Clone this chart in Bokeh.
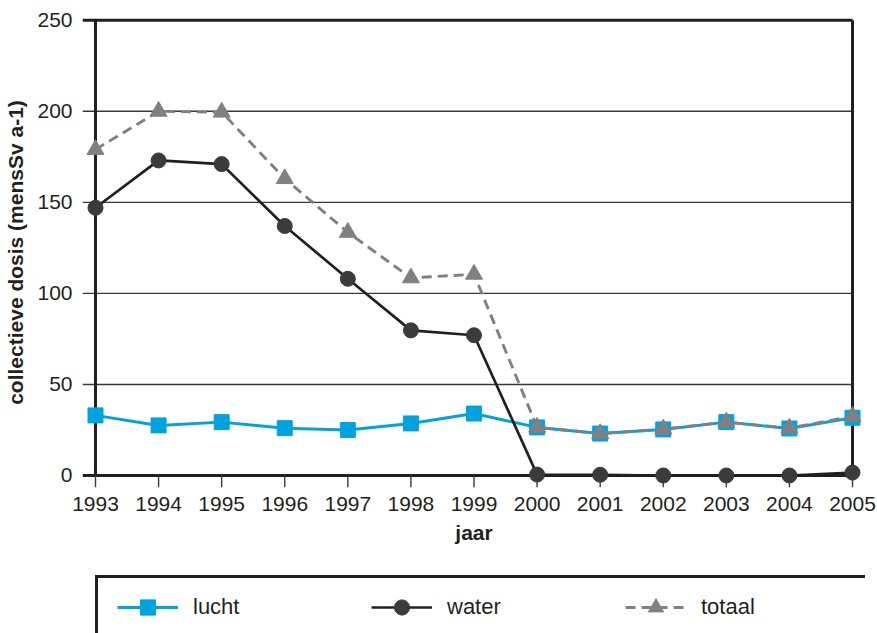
from bokeh.plotting import figure
from bokeh.layouts import column
from bokeh.models import Range1d, FixedTicker, Legend, LegendItem
from bokeh.embed import file_html
from bokeh.resources import INLINE

YEARS = [1993, 1994, 1995, 1996, 1997, 1998, 1999, 2000, 2001, 2002, 2003, 2004, 2005]
LUCHT = [33, 27.5, 29.3, 26, 25, 28.6, 34, 26.4, 23, 25.3, 29.3, 25.8, 31.7]
WATER = [147, 173, 171, 137, 108, 79.7, 77, 0.5, 0.4, 0, 0, 0, 1.6]
TOTAAL = [179, 200, 199.5, 163, 133.5, 108.5, 110.5, 26.5, 23, 25.5, 29.3, 26, 32.5]
Y_TICKS = [0, 50, 100, 150, 200, 250]
SERIES = ["lucht", "water", "totaal"]
X_LABEL = "jaar"
Y_LABEL = "collectieve dosis (mensSv a-1)"

X_START, X_END = YEARS[0], YEARS[-1]
Y_MIN, Y_MAX = Y_TICKS[0], Y_TICKS[-1]
XPAD_L, XPAD_R = 0.206, 0.206
YPAD_B, YPAD_T = 6.6, 1.5

FONT = "Liberation Sans"
INK = "#231f20"
CYAN = "#00a3e0"
DARK = "#231f20"
DOT = "#3b3b3b"
GRAY = "#808080"
GRID = "#3a3a3a"

p = figure(
    frame_width=783, frame_height=470,
    min_border_left=82, min_border_right=12, min_border_top=17, min_border_bottom=83,
    x_range=Range1d(X_START - XPAD_L, X_END + XPAD_R),
    y_range=Range1d(Y_MIN - YPAD_B, Y_MAX + YPAD_T),
    output_backend="svg", toolbar_location=None,
)
p.outline_line_color = None
p.grid.visible = False

for ax in (p.xaxis[0], p.yaxis[0]):
    ax.axis_line_color = None
    ax.major_tick_line_color = None
    ax.minor_tick_line_color = None
    ax.major_label_text_font = FONT
    ax.major_label_text_font_size = "21px"
    ax.major_label_text_color = INK
    ax.axis_label_text_font = FONT
    ax.axis_label_text_font_size = "21px"
    ax.axis_label_text_font_style = "bold"
    ax.axis_label_text_color = INK

p.xaxis.ticker = FixedTicker(ticks=YEARS)
p.yaxis.ticker = FixedTicker(ticks=Y_TICKS)
p.xaxis.major_label_standoff = 3
p.yaxis.major_label_standoff = 4
p.xaxis.axis_label = X_LABEL
p.yaxis.axis_label = Y_LABEL
p.xaxis.axis_label_standoff = 7
p.yaxis.axis_label_standoff = 7

# horizontal grid lines (with tick stubs left of the axis)
inner = Y_TICKS[1:-1]
p.segment(x0=[X_START - XPAD_L] * len(inner), x1=[X_END] * len(inner), y0=inner, y1=inner,
          line_color=GRID, line_width=1.4)
# bottom axis line and top border
p.segment(x0=[X_START - XPAD_L] * 2, x1=[X_END] * 2, y0=[Y_MIN, Y_MAX], y1=[Y_MIN, Y_MAX],
          line_color=INK, line_width=3)
# x tick stubs
p.segment(x0=YEARS, x1=YEARS, y0=[Y_MIN - YPAD_B] * len(YEARS), y1=[Y_MIN] * len(YEARS),
          line_color=GRID, line_width=1.4)
# left axis line and right border
p.segment(x0=[X_START, X_END], x1=[X_START, X_END], y0=[Y_MIN, Y_MIN], y1=[Y_MAX, Y_MAX],
          line_color=INK, line_width=3)

STYLES = [
    dict(line=dict(line_color=CYAN, line_width=3),
         pts=dict(marker="square", size=15, fill_color=CYAN, line_color=CYAN)),
    dict(line=dict(line_color=DARK, line_width=2.7),
         pts=dict(marker="circle", size=15, fill_color=DOT, line_color=DOT)),
    dict(line=dict(line_color=GRAY, line_width=2.9, line_dash="10 6"),
         pts=dict(marker="triangle", size=17, fill_color=GRAY, line_color=GRAY)),
]
VALUES = [LUCHT, WATER, TOTAAL]
for vals, st in zip(VALUES, STYLES):
    p.line(YEARS, vals, **st["line"])
    p.scatter(YEARS, vals, **st["pts"])

# ---- legend strip (separate figure below the chart; its frame aligns with the chart frame) ----
q = figure(width=877, height=63, min_border_top=0, min_border_bottom=0,
           min_border_left=82, min_border_right=12,
           x_range=Range1d(0, 1), y_range=Range1d(0, 1),
           output_backend="svg", toolbar_location=None,
           x_axis_location=None, y_axis_location=None)
q.outline_line_color = None
q.grid.visible = False

# legend-only renderers: same styles, their data lie outside this strip's ranges
items = []
for name, vals, st in zip(SERIES, VALUES, STYLES):
    r1 = q.line(YEARS, vals, **st["line"])
    r2 = q.scatter(YEARS, vals, **{k: v for k, v in st["pts"].items() if k != "size"})
    items.append(LegendItem(label=name, renderers=[r1, r2]))

box_r = q.line(YEARS, LUCHT, line_alpha=0)
box = Legend(
    items=[LegendItem(label=" ", renderers=[box_r])],
    location=(13, -28), orientation="horizontal",
    glyph_width=20, glyph_height=80, label_width=747, label_height=80,
    label_standoff=0, padding=0, margin=0, spacing=0,
    border_line_color="#231f20", border_line_width=3, border_line_alpha=1.0,
    background_fill_color="white", background_fill_alpha=1.0, label_text_font_size="8px",
)
q.add_layout(box, "center")

leg = Legend(
    items=items, orientation="horizontal",
    location=(35, 7),
    glyph_width=61, glyph_height=38,
    label_width=139, label_height=38,
    label_standoff=15, spacing=39,
    padding=0, margin=0,
    border_line_color=None, background_fill_alpha=0,
    label_text_font=FONT, label_text_font_size="22px", label_text_color=INK,
)
q.add_layout(leg, "center")

layout = column(p, q, spacing=0)
open("out.html", "w").write(file_html(layout, INLINE))
